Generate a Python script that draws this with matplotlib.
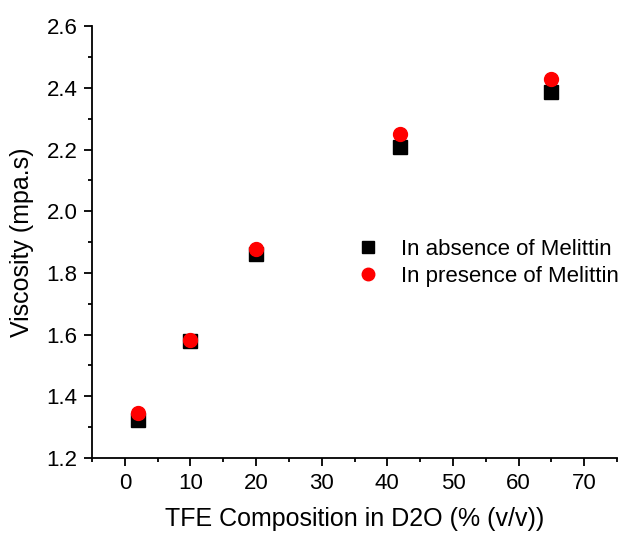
import numpy as np
import matplotlib
matplotlib.use("Agg")
from matplotlib import pyplot as plt
from matplotlib.ticker import MultipleLocator, FormatStrFormatter

tfe = [2, 10, 20, 42, 65]
absence = [1.322, 1.580, 1.861, 2.207, 2.386]
presence = [1.346, 1.581, 1.877, 2.250, 2.427]

plt.rcParams["font.family"] = ["Liberation Sans", "DejaVu Sans"]

fig = plt.figure(figsize=(6.28, 5.33), dpi=100)
ax = fig.add_axes([0.1465, 0.1407, 0.8360, 0.8103])

ax.plot(tfe, absence, linestyle="none", marker="s", markersize=9.5,
        color="black", label="In absence of Melittin")
ax.plot(tfe, presence, linestyle="none", marker="o", markersize=10,
        color="red", label="In presence of Melittin")

ax.set_xlim(-5, 75)
ax.set_ylim(1.2, 2.6)
ax.xaxis.set_major_locator(MultipleLocator(10))
ax.xaxis.set_minor_locator(MultipleLocator(5))
ax.yaxis.set_major_locator(MultipleLocator(0.2))
ax.yaxis.set_minor_locator(MultipleLocator(0.1))
ax.yaxis.set_major_formatter(FormatStrFormatter("%.1f"))

ax.spines["top"].set_visible(False)
ax.spines["right"].set_visible(False)
for s in ("left", "bottom"):
    ax.spines[s].set_linewidth(1.3)
ax.tick_params(which="major", direction="out", length=5.5, width=1.3, labelsize=16, pad=5)
ax.tick_params(which="minor", direction="out", length=3, width=1.3)

ax.set_xlabel("TFE Composition in D2O (% (v/v))", fontsize=18, labelpad=10)
ax.set_ylabel("Viscosity (mpa.s)", fontsize=18, labelpad=9)

ax.legend(loc="center left", bbox_to_anchor=(0.483, 0.452), frameon=False,
          fontsize=16, borderpad=0, handletextpad=0.98, labelspacing=0.25,
          handlelength=1.0, markerscale=0.9)

fig.savefig("out.png", dpi=100)
